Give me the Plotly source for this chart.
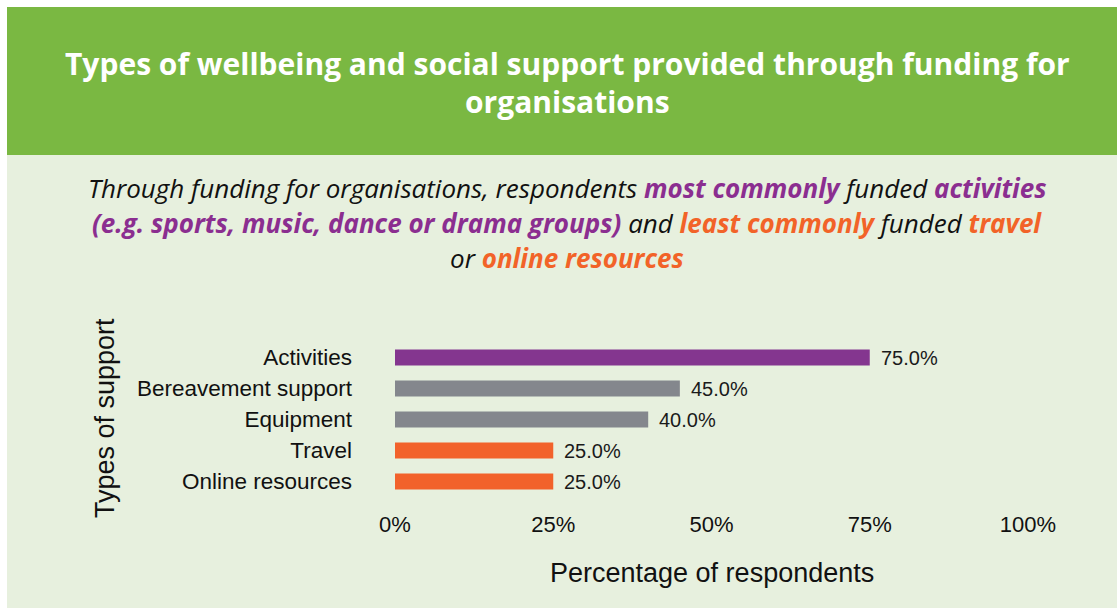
import plotly.graph_objects as go

# Data
categories = ["Activities", "Bereavement support", "Equipment", "Travel", "Online resources"]
values = [75.0, 45.0, 40.0, 25.0, 25.0]
groups = ["most", "other", "other", "least", "least"]
tick_values = [0, 25, 50, 75, 100]
tick_labels = ["0%", "25%", "50%", "75%", "100%"]

# Styling
W, H = 1117, 608
PL, PR, PT, PB = 395, 1028, 342, 497          # plot area in pixels
GREEN = "#7AB842"
PANEL = "#E7F0DE"
PURPLE = "#84368F"
GREY = "#84878D"
ORANGE = "#F2622B"
TXT_PURPLE = "#8B2E90"
TXT_ORANGE = "#F26328"
group_colors = {"most": PURPLE, "other": GREY, "least": ORANGE}
CHART_FONT = "Liberation Sans, Arial, sans-serif"
HEAD_FONT = "Open Sans, sans-serif"


def px_x(px):
    return (px - PL) / (PR - PL)


def px_y(py):
    return (PB - py) / (PB - PT)


fig = go.Figure(
    go.Bar(
        x=values,
        y=categories,
        orientation="h",
        width=0.52,
        marker=dict(color=[group_colors[g] for g in groups], line=dict(width=0)),
        hovertemplate="%{y}: %{x:.1f}%<extra></extra>",
    )
)

annotations = []

# value labels next to each bar
for cat, val in zip(categories, values):
    annotations.append(dict(
        x=val, y=cat, xref="x", yref="y", text=f"{val:.1f}%",
        showarrow=False, xanchor="left", yanchor="middle", xshift=9,
        font=dict(family=CHART_FONT, size=20, color="#1a1a1a"),
    ))

# header title
for text, py in [("Types of wellbeing and social support provided through funding for", 63),
                 ("organisations", 101)]:
    annotations.append(dict(
        x=px_x(567), y=px_y(py), xref="paper", yref="paper", text=f"<b>{text}</b>",
        showarrow=False, xanchor="center", yanchor="middle",
        font=dict(family=HEAD_FONT, size=30, color="white"),
    ))


def hl(text, color):
    return f'<span style="color:{color}"><b>{text}</b></span>'


sub_lines = [
    ("Through funding for organisations, respondents " + hl("most commonly", TXT_PURPLE)
     + " funded " + hl("activities", TXT_PURPLE), 188),
    (hl("(e.g. sports, music, dance or drama groups)", TXT_PURPLE) + " and "
     + hl("least commonly", TXT_ORANGE) + " funded " + hl("travel", TXT_ORANGE), 223),
    ("or " + hl("online resources", TXT_ORANGE), 258),
]
for text, py in sub_lines:
    annotations.append(dict(
        x=px_x(567), y=px_y(py), xref="paper", yref="paper", text=f"<i>{text}</i>",
        showarrow=False, xanchor="center", yanchor="middle",
        font=dict(family=HEAD_FONT, size=26, color="#111111"),
    ))

# axis titles
annotations.append(dict(
    x=px_x(711.5), y=px_y(573), xref="paper", yref="paper", text="Percentage of respondents",
    showarrow=False, xanchor="center", yanchor="middle",
    font=dict(family=CHART_FONT, size=27, color="#111111"),
))
annotations.append(dict(
    x=px_x(105), y=px_y(418), xref="paper", yref="paper", text="Types of support",
    showarrow=False, xanchor="center", yanchor="middle", textangle=-90,
    font=dict(family=CHART_FONT, size=27, color="#111111"),
))

shapes = [
    # light panel behind the chart
    dict(type="rect", xref="paper", yref="paper", layer="below",
         x0=px_x(7), x1=px_x(W + 5), y0=px_y(H + 5), y1=px_y(155),
         fillcolor=PANEL, line=dict(width=0)),
    # green header band
    dict(type="rect", xref="paper", yref="paper", layer="below",
         x0=px_x(7), x1=px_x(W + 5), y0=px_y(155), y1=px_y(7),
         fillcolor=GREEN, line=dict(width=0)),
]

fig.update_layout(
    width=W, height=H,
    margin=dict(l=PL, r=W - PR, t=PT, b=H - PB, autoexpand=False),
    paper_bgcolor="white",
    plot_bgcolor="rgba(0,0,0,0)",
    showlegend=False,
    bargap=0.48,
    annotations=annotations,
    shapes=shapes,
    xaxis=dict(
        range=[0, 100], tickvals=tick_values, ticktext=tick_labels,
        showgrid=False, zeroline=False, showline=False, ticks="",
        ticklabelstandoff=12, automargin=False,
        tickfont=dict(family=CHART_FONT, size=22, color="#111111"),
    ),
    yaxis=dict(
        categoryorder="array", categoryarray=categories, autorange="reversed",
        showgrid=False, zeroline=False, showline=False, ticks="",
        ticklabelstandoff=42, automargin=False,
        tickfont=dict(family=CHART_FONT, size=22.5, color="#111111"),
    ),
)

fig.write_html("out.html")
